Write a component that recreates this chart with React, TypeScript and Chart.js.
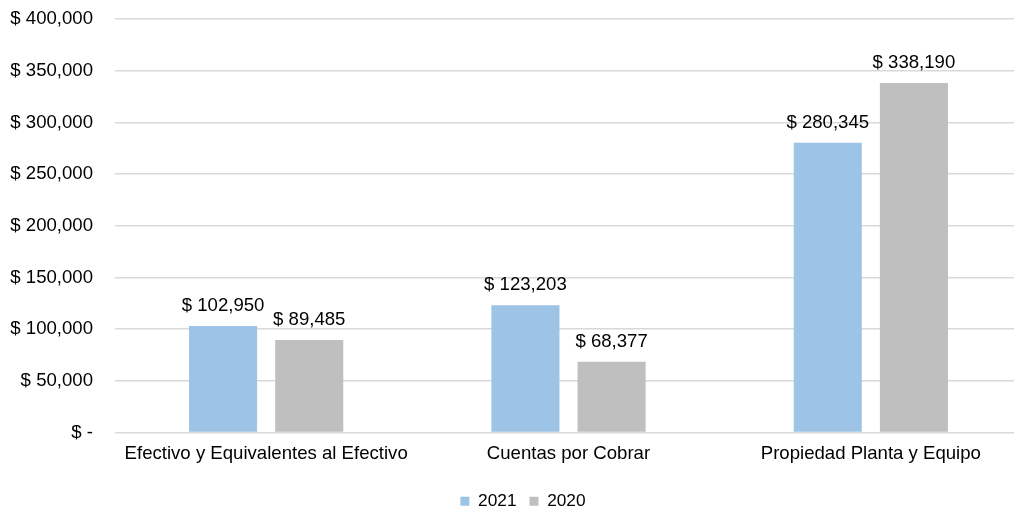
import React, { useEffect, useRef } from "react";
import { Chart, registerables } from "chart.js";

Chart.register(...registerables);

const categories = [
  "Efectivo y Equivalentes al Efectivo",
  "Cuentas por Cobrar",
  "Propiedad Planta y Equipo",
];
const series2021 = [102950, 123203, 280345];
const series2020 = [89485, 68377, 338190];
const seriesNames = ["2021", "2020"];
const yMax = 400000;
const yStep = 50000;

const FONT = "'Liberation Sans', Arial, sans-serif";
const FS = 18.6;
const LEGEND_FS = 17.3;

const fmt = (v: number) => (v === 0 ? "$ -" : "$ " + v.toLocaleString("en-US"));

const dataLabels = {
  id: "dataLabels",
  afterDatasetsDraw(chart: any) {
    const ctx = chart.ctx;
    ctx.save();
    ctx.font = `${FS}px ${FONT}`;
    ctx.fillStyle = "#000000";
    ctx.textAlign = "center";
    ctx.textBaseline = "alphabetic";
    chart.data.datasets.forEach((ds: any, i: number) => {
      const meta = chart.getDatasetMeta(i);
      meta.data.forEach((bar: any, j: number) => {
        ctx.fillText(fmt(ds.data[j]), bar.x, bar.y - 15);
      });
    });
    ctx.restore();
  },
};

export default function App() {
  const ref = useRef<HTMLCanvasElement>(null);
  useEffect(() => {
    if (!ref.current) return;
    const chart = new Chart(ref.current, {
      type: "bar",
      data: {
        labels: categories,
        datasets: [
          { label: seriesNames[0], data: series2021, backgroundColor: "#9DC3E6", yAxisID: "y" },
          { label: seriesNames[1], data: series2020, backgroundColor: "#BFBFBF", yAxisID: "y" },
        ],
      },
      options: {
        animation: false,
        responsive: false,
        maintainAspectRatio: false,
        devicePixelRatio: 1,
        layout: { padding: { top: 19, left: 0, right: 0, bottom: 0 } },
        datasets: { bar: { categoryPercentage: 0.57, barPercentage: 0.79 } },
        scales: {
          x: {
            grid: { display: false, drawTicks: false },
            border: { display: false },
            ticks: { color: "#000", font: { family: FONT, size: FS }, padding: 10, maxRotation: 0, autoSkip: false },
            afterFit: (s: any) => { s.height = 47.2; },
          },
          y: {
            min: 0,
            max: yMax,
            grid: { color: "#D9D9D9", lineWidth: 1.5, drawTicks: true, tickLength: 22, tickColor: "rgba(0,0,0,0)" },
            border: { display: false },
            ticks: {
              stepSize: yStep,
              color: "#000",
              font: { family: FONT, size: FS },
              padding: 0,
              callback: (v: any) => fmt(Number(v)),
            },
            afterFit: (s: any) => { s.width = 115; },
          },
          y2: {
            position: "right",
            display: true,
            grid: { drawOnChartArea: false, drawTicks: false },
            border: { display: false },
            ticks: { display: false },
            afterFit: (s: any) => { s.width = 24; },
          },
        },
        plugins: {
          legend: {
            position: "bottom",
            labels: {
              boxWidth: 9,
              boxHeight: 9,
              color: "#000",
              font: { family: FONT, size: LEGEND_FS },
              padding: 13,
            },
          },
          tooltip: { enabled: false },
        },
      },
      plugins: [dataLabels],
    });
    return () => chart.destroy();
  }, []);
  return (
    <div style={{ position: "fixed", left: 0, top: 0, width: 1014, height: 509, overflow: "hidden", background: "#fff" }}>
      <canvas ref={ref} width={1046} height={520} style={{ display: "block", width: 1046, height: 520 }} />
    </div>
  );
}
